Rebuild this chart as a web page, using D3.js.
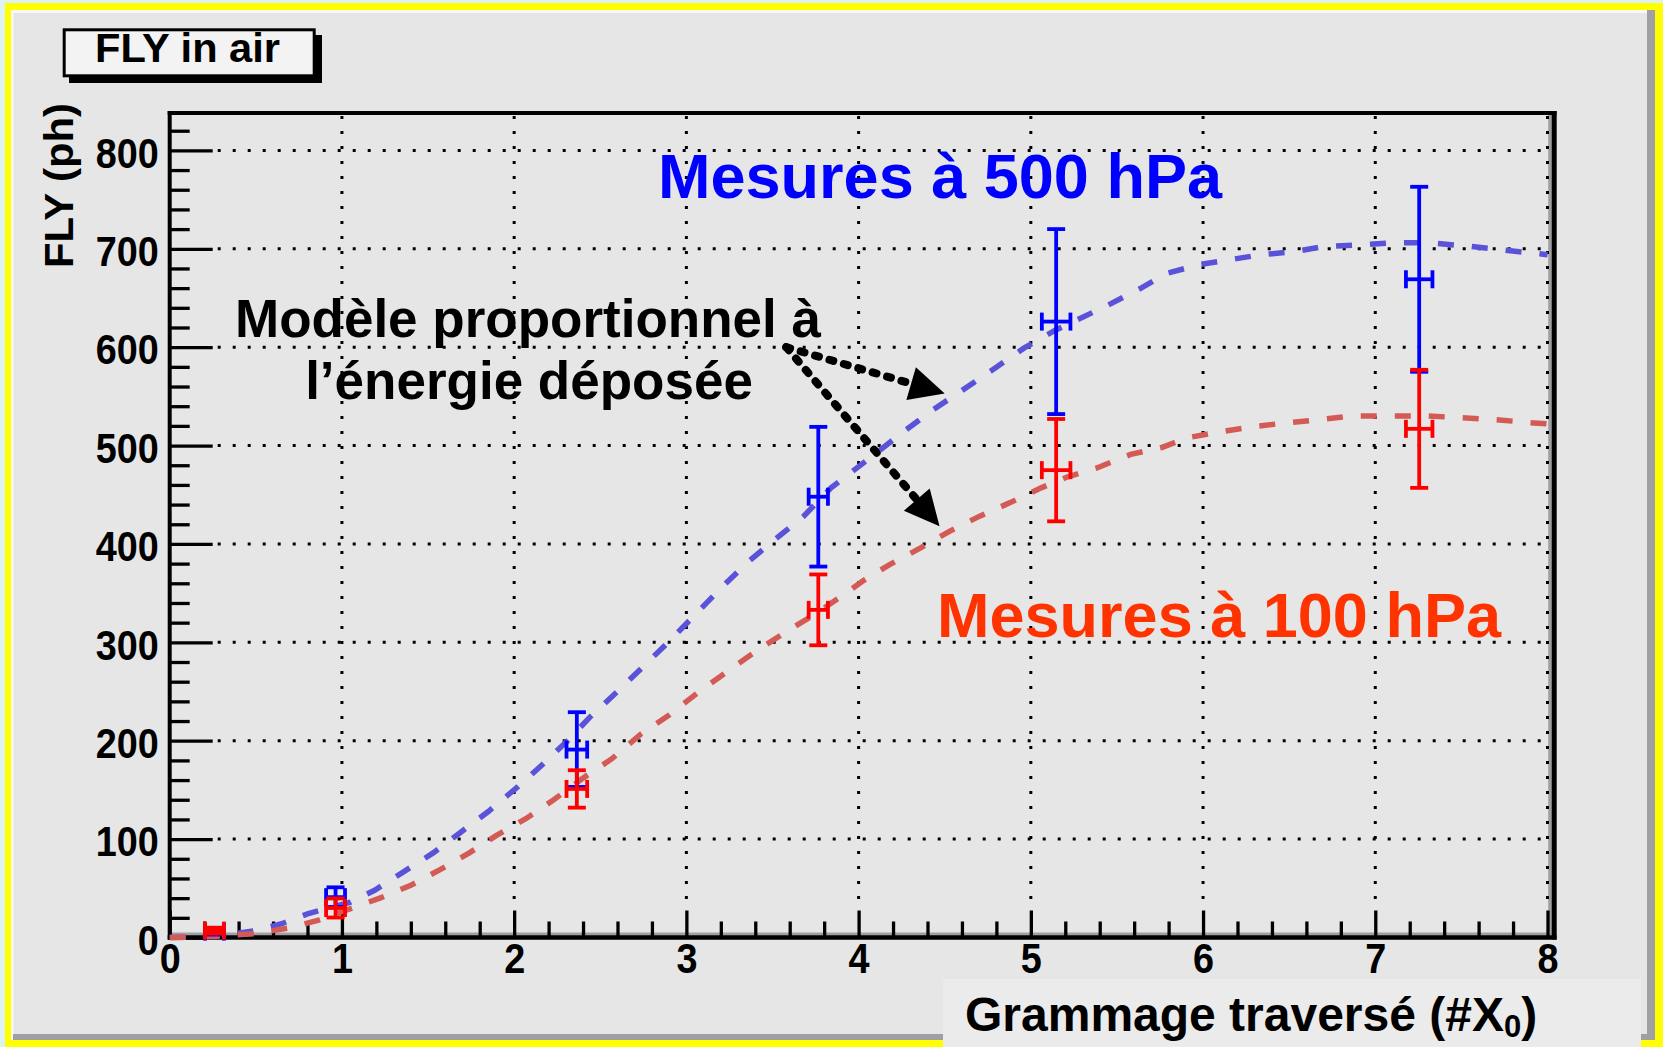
<!DOCTYPE html>
<html><head><meta charset="utf-8">
<script src="https://cdn.jsdelivr.net/npm/d3@7"></script>
<style>html,body{margin:0;padding:0;background:#e6e6e6;} svg{display:block}</style>
</head><body>
<svg id="c" width="1663" height="1047"></svg>
<script>
// ---------------- data ----------------
const xTicks = [0, 1, 2, 3, 4, 5, 6, 7, 8];
const yTicks = [0, 100, 200, 300, 400, 500, 600, 700, 800];

// measurements at 500 hPa (blue)
const meas500X  = [0.26, 0.963, 2.364, 3.766, 5.147, 7.255];
const meas500Y  = [6, 41, 191, 448, 626, 669];
const meas500EX = [0.055, 0.055, 0.06, 0.056, 0.083, 0.077];
const meas500EY = [3, 10, 38, 71, 94, 94];

// measurements at 100 hPa (red)
const meas100X  = [0.26, 0.963, 2.364, 3.766, 5.147, 7.255];
const meas100Y  = [7, 30, 151, 333, 475, 517];
const meas100EX = [0.055, 0.055, 0.06, 0.056, 0.083, 0.077];
const meas100EY = [3, 9.7, 19, 36, 52, 60];

// model proportional to deposited energy
const model500X = [0, 0.25, 0.5, 0.65, 0.8, 1.05, 1.19, 1.36, 1.53, 1.69, 1.85, 2.02, 2.16, 2.31, 2.44, 2.6, 2.9, 3.05, 3.2, 3.36, 3.51, 3.68, 3.84, 4.1, 4.26, 4.43, 4.77, 4.96, 5.14, 5.44, 5.64, 5.79, 5.98, 6.16, 6.34, 6.53, 6.69, 6.9, 7.1, 7.32, 7.52, 7.73, 7.89, 8.0];
const model500Y = [0, 1, 7, 14, 24, 36, 48, 67, 86, 107, 128, 153, 175, 200, 224, 250, 301, 328, 355, 382, 404, 428, 457, 492, 514, 536, 576, 599, 617, 642, 660, 675, 684, 689, 694, 697, 702, 704, 706, 706, 703, 699, 696, 694];
const model100X = [0, 0.25, 0.5, 0.7, 0.87, 1.06, 1.22, 1.4, 1.57, 1.74, 1.9, 2.07, 2.23, 2.4, 2.57, 2.73, 2.9, 3.06, 3.25, 3.43, 3.6, 3.76, 3.95, 4.03, 4.18, 4.36, 4.53, 4.7, 4.88, 5.06, 5.21, 5.38, 5.58, 5.76, 5.91, 6.1, 6.28, 6.48, 6.66, 6.86, 7.08, 7.31, 7.53, 7.72, 7.92, 8.0];
const model100Y = [0, 1, 4, 10, 18, 30, 40, 53, 69, 86, 104, 121, 140, 162, 182, 206, 226, 248, 272, 294, 313, 330, 353, 363, 379, 396, 413, 428, 442, 457, 468, 477, 491, 498, 508, 514, 519, 523, 526, 530, 530, 530, 528, 526, 523, 522];

const titleText = "FLY in air";
const yTitle = "FLY (ph)";
const label500 = "Mesures à 500 hPa";
const label100 = "Mesures à 100 hPa";
const modelLine1 = "Modèle proportionnel à";
const modelLine2 = "l’énergie déposée";

// ---------------- drawing ----------------
const W = 1663, H = 1047;
const FONT = "'Liberation Sans', Arial, Helvetica, sans-serif";
const svg = d3.select("#c");

// canvas background and borders
svg.append("rect").attr("width", W).attr("height", H).attr("fill", "#e6e6e6");
svg.append("rect").attr("x", 0).attr("y", 0).attr("width", 5).attr("height", H).attr("fill", "#dff2f2");
svg.append("rect").attr("x", 0).attr("y", 0).attr("width", W).attr("height", 3).attr("fill", "#dff2f2");
svg.append("rect").attr("x", 5).attr("y", 3).attr("width", 6).attr("height", H - 3).attr("fill", "#ffff00");
svg.append("rect").attr("x", 5).attr("y", 3).attr("width", W - 5).attr("height", 7).attr("fill", "#ffff00");
svg.append("rect").attr("x", 1655).attr("y", 3).attr("width", 8).attr("height", H - 3).attr("fill", "#ffff00");
svg.append("rect").attr("x", 5).attr("y", 1040).attr("width", W - 5).attr("height", 7).attr("fill", "#ffff00");
svg.append("rect").attr("x", 11).attr("y", 10).attr("width", 2.5).attr("height", 1030).attr("fill", "#f7f7f7");
svg.append("rect").attr("x", 11).attr("y", 10).attr("width", 1644).attr("height", 3).attr("fill", "#f7f7f7");
svg.append("rect").attr("x", 1647).attr("y", 10).attr("width", 8).attr("height", 1030).attr("fill", "#a0a0a4");
svg.append("rect").attr("x", 13).attr("y", 1034).attr("width", 1642).attr("height", 6).attr("fill", "#a0a0a4");

// scales
const x = d3.scaleLinear().domain([0, 8]).range([169.7, 1547.5]);
const y = d3.scaleLinear().domain([0, 838]).range([937.5, 113]);

// frame inner shadow
svg.append("rect").attr("x", 172).attr("y", 932.5).attr("width", 1380).attr("height", 3.3).attr("fill", "#a0a0a4");
svg.append("rect").attr("x", 1548.2).attr("y", 115).attr("width", 3.6).attr("height", 820).attr("fill", "#a0a0a4");

// grid
const grid = svg.append("g").attr("stroke", "#000").attr("stroke-width", 3).attr("stroke-dasharray", "3,12");
grid.selectAll("line.h").data(yTicks.filter(d => d > 0)).join("line")
  .attr("x1", x(0) + 48).attr("x2", x(8)).attr("y1", d => y(d)).attr("y2", d => y(d));
grid.selectAll("line.v").data(xTicks.filter(d => d > 0)).join("line")
  .attr("x1", d => x(d)).attr("x2", d => x(d)).attr("y1", y(838) + 3).attr("y2", y(0) - 30);

// axes
const axX = d3.axisBottom(x).tickValues(xTicks).tickSize(-27).tickPadding(6).tickFormat(d3.format("d"));
const axXminor = d3.axisBottom(x).tickValues(d3.range(0, 8.001, 0.2).filter(v => Math.abs(v - Math.round(v)) > 1e-6)).tickSize(-16).tickFormat("");
const axY = d3.axisLeft(y).tickValues(yTicks).tickSize(-43).tickPadding(11).tickFormat(d3.format("d"));
const axYminor = d3.axisLeft(y).tickValues(d3.range(0, 838, 20).filter(v => v % 100 !== 0)).tickSize(-20).tickFormat("");

function styleAxis(g) {
  g.select(".domain").remove();
  g.selectAll(".tick line").attr("stroke", "#000").attr("stroke-width", 3.3);
  g.selectAll(".tick text").attr("fill", "#000").style("font-family", FONT)
    .style("font-weight", "bold").style("font-size", "42px")
    .attr("textLength", function() { return this.textContent.length * 21; })
    .attr("lengthAdjust", "spacingAndGlyphs");
}
svg.append("g").attr("transform", `translate(0,${y(0)})`).call(axXminor).call(styleAxis);
svg.append("g").attr("transform", `translate(0,${y(0)})`).call(axX).call(styleAxis);
svg.append("g").attr("transform", `translate(${x(0)},0)`).call(axYminor).call(styleAxis);
const gy = svg.append("g").attr("transform", `translate(${x(0)},0)`).call(axY).call(styleAxis);
gy.selectAll(".tick text").attr("dy", "0.4em");

// frame
const frame = svg.append("g").attr("stroke", "#000");
frame.append("line").attr("x1", x(0) - 2).attr("x2", 1556.5).attr("y1", y(838)).attr("y2", y(838)).attr("stroke-width", 4);
frame.append("line").attr("x1", 1554.2).attr("x2", 1554.2).attr("y1", y(838) - 2).attr("y2", y(0) + 2).attr("stroke-width", 5);
frame.append("line").attr("x1", x(0)).attr("x2", x(0)).attr("y1", y(838) - 2).attr("y2", y(0) + 2).attr("stroke-width", 4);
frame.append("line").attr("x1", x(0) - 2).attr("x2", 1556.5).attr("y1", y(0)).attr("y2", y(0)).attr("stroke-width", 4.3);

// model curves
const line = d3.line().x(d => x(d[0])).y(d => y(d[1]));
function drawModel(xs, ys, color) {
  svg.append("path").datum(xs.map((v, i) => [v, ys[i]]))
    .attr("d", line).attr("fill", "none").attr("stroke", color)
    .attr("stroke-width", 5.5).attr("stroke-dasharray", "16,18");
}
drawModel(model500X, model500Y, "#5a52d8");
drawModel(model100X, model100Y, "#d45a56");

// error bars
function drawErrors(xs, ys, exs, eys, color) {
  const g = svg.append("g").attr("stroke", color).attr("stroke-width", 3.8).attr("fill", "none");
  const cap = 9;
  xs.forEach((xv, i) => {
    const cx = x(xv), cy = y(ys[i]);
    const yt = y(ys[i] + eys[i]), yb = y(ys[i] - eys[i]);
    const xl = x(xv - exs[i]), xr = x(xv + exs[i]);
    g.append("line").attr("x1", cx).attr("x2", cx).attr("y1", yt).attr("y2", yb);
    g.append("line").attr("x1", cx - cap).attr("x2", cx + cap).attr("y1", yt).attr("y2", yt);
    g.append("line").attr("x1", cx - cap).attr("x2", cx + cap).attr("y1", yb).attr("y2", yb);
    g.append("line").attr("x1", xl).attr("x2", xr).attr("y1", cy).attr("y2", cy);
    g.append("line").attr("x1", xl).attr("x2", xl).attr("y1", cy - cap).attr("y2", cy + cap);
    g.append("line").attr("x1", xr).attr("x2", xr).attr("y1", cy - cap).attr("y2", cy + cap);
  });
}
drawErrors(meas500X, meas500Y, meas500EX, meas500EY, "#0000ff");
drawErrors(meas100X, meas100Y, meas100EX, meas100EY, "#ff0000");

// annotation texts
svg.append("text").attr("x", 658).attr("y", 198).text(label500)
  .attr("fill", "#0000ff").style("font-family", FONT).style("font-weight", "bold").style("font-size", "63px")
  .attr("textLength", 564).attr("lengthAdjust", "spacingAndGlyphs");
svg.append("text").attr("x", 937).attr("y", 637).text(label100)
  .attr("fill", "#ff3300").style("font-family", FONT).style("font-weight", "bold").style("font-size", "63px")
  .attr("textLength", 564).attr("lengthAdjust", "spacingAndGlyphs");
svg.append("text").attr("x", 528).attr("y", 337).attr("text-anchor", "middle").text(modelLine1)
  .attr("fill", "#000").style("font-family", FONT).style("font-weight", "bold").style("font-size", "53px");
svg.append("text").attr("x", 529).attr("y", 399).attr("text-anchor", "middle").text(modelLine2)
  .attr("fill", "#000").style("font-family", FONT).style("font-weight", "bold").style("font-size", "53px");

// arrows (anchored in data coordinates)
function arrow(from, to) {
  const x0 = x(from[0]), y0 = y(from[1]), x1 = x(to[0]), y1 = y(to[1]);
  const dx = x1 - x0, dy = y1 - y0, L = Math.hypot(dx, dy);
  const ux = dx / L, uy = dy / L, hl = 35, hw = 17;
  const bx = x1 - ux * hl, by = y1 - uy * hl;
  svg.append("line").attr("x1", x0).attr("y1", y0).attr("x2", bx + ux * 4).attr("y2", by + uy * 4)
    .attr("stroke", "#000").attr("stroke-width", 8).attr("stroke-linecap", "round").attr("stroke-dasharray", "4,11");
  svg.append("path").attr("d", `M${x1},${y1}L${bx - uy * hw},${by + ux * hw}L${bx + uy * hw},${by - ux * hw}Z`).attr("fill", "#000");
}
arrow([3.58, 600], [4.5, 553]);
arrow([3.58, 600], [4.47, 418]);

// title box
svg.append("rect").attr("x", 69).attr("y", 35).attr("width", 253).attr("height", 48).attr("fill", "#000");
svg.append("rect").attr("x", 64.2).attr("y", 29.8).attr("width", 250).attr("height", 46).attr("fill", "#f3f3f3").attr("stroke", "#000").attr("stroke-width", 3);
svg.append("text").attr("x", 187.5).attr("y", 62).attr("text-anchor", "middle").text(titleText)
  .attr("fill", "#000").style("font-family", FONT).style("font-weight", "bold").style("font-size", "40px")
  .attr("textLength", 185).attr("lengthAdjust", "spacingAndGlyphs");

// y axis title
svg.append("text").attr("transform", "translate(73,103) rotate(-90)").attr("text-anchor", "end").text(yTitle)
  .attr("fill", "#000").style("font-family", FONT).style("font-weight", "bold").style("font-size", "40px")
  .attr("textLength", 165).attr("lengthAdjust", "spacingAndGlyphs");

// x axis title box
svg.append("rect").attr("x", 943).attr("y", 979).attr("width", 698).attr("height", 68).attr("fill", "#ebebeb");
const xt = svg.append("text").attr("x", 965).attr("y", 1031).attr("fill", "#000")
  .style("font-family", FONT).style("font-weight", "bold").style("font-size", "48px");
xt.append("tspan").text("Grammage traversé (#X");
xt.append("tspan").attr("dy", 6).style("font-size", "31px").text("0");
xt.append("tspan").attr("dy", -6).text(")");
</script>
</body></html>
